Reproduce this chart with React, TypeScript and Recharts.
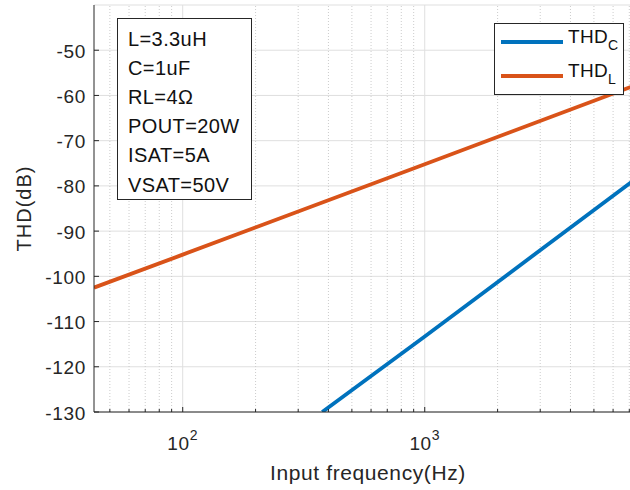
import React from "react";
import {
  LineChart,
  Line,
  XAxis,
  YAxis,
  CartesianGrid,
  ReferenceLine,
  Legend,
} from "recharts";

const FONT = "'Liberation Sans', Arial, Helvetica, sans-serif";
const INK = "#262626";
const BLUE = "#0072BD";
const ORANGE = "#D95319";

// frequencies (Hz) and THD (dB)
const FREQ_L = [43, 100, 1000, 7900];
const THD_L = [-102.5, -95.2, -75.2, -57.2];
const FREQ_C = [377, 1000, 7900];
const THD_C = [-130, -113.3, -77.4];

const X_MAJOR = [100, 1000];
const X_MINOR = [50, 60, 70, 80, 90, 200, 300, 400, 500, 600, 700, 800, 900, 2000, 3000, 4000, 5000, 6000, 7000];
const Y_TICKS = [-130, -120, -110, -100, -90, -80, -70, -60, -50];

const PARAMS = ["L=3.3uH", "C=1uF", "RL=4Ω", "POUT=20W", "ISAT=5A", "VSAT=50V"];

const SERIES = [
  { key: "C", label: "THD", sub: "C", color: BLUE, data: FREQ_C.map((f, i) => ({ f, v: THD_C[i] })) },
  { key: "L", label: "THD", sub: "L", color: ORANGE, data: FREQ_L.map((f, i) => ({ f, v: THD_L[i] })) },
];

const X_ALL = [...X_MINOR, ...X_MAJOR].sort((a, b) => a - b);

const BottomTick = (props: any) => {
  const { x, y, payload } = props;
  const major = X_MAJOR.includes(payload.value);
  const exp = Math.round(Math.log10(payload.value));
  return (
    <g>
      <line x1={x} x2={x} y1={y} y2={y - (major ? 5 : 3)} stroke={INK} />
      {major && (
        <text x={x} y={y + 38} textAnchor="middle" fill={INK} fontSize={19} fontFamily={FONT} letterSpacing={0.6}>
          10
          <tspan dy={-10} fontSize={14}>
            {exp}
          </tspan>
        </text>
      )}
    </g>
  );
};

const TopTick = (props: any) => {
  const { x, y, payload } = props;
  const major = X_MAJOR.includes(payload.value);
  return <line x1={x} x2={x} y1={y} y2={y + (major ? 5 : 3)} stroke={INK} />;
};

const LeftTick = (props: any) => {
  const { x, y, payload } = props;
  return (
    <g>
      <line x1={x} x2={x + 5} y1={y} y2={y} stroke={INK} />
      <text x={x - 8} y={y} dy={7.5} textAnchor="end" fill={INK} fontSize={19} fontFamily={FONT} letterSpacing={0.7}>
        {payload.value}
      </text>
    </g>
  );
};

const LegendBox = () => (
  <div
    style={{
      position: "relative",
      width: 130,
      height: 72,
      boxSizing: "border-box",
      border: `1px solid ${INK}`,
      background: "#fff",
      fontFamily: FONT,
      color: "#111",
    }}
  >
    {SERIES.map((s, i) => (
      <div key={s.key} style={{ position: "absolute", left: 6, top: 18 + i * 34 - 2 }}>
        <div style={{ position: "absolute", left: 0, top: 0, width: 62, height: 4, background: s.color }} />
        <div style={{ position: "absolute", left: 67, top: -13, fontSize: 19, whiteSpace: "nowrap", lineHeight: "20px", letterSpacing: 0.3 }}>
          {s.label}
          <span style={{ fontSize: 14, position: "relative", top: 7 }}>{s.sub}</span>
        </div>
      </div>
    ))}
  </div>
);

export default function App() {
  return (
    <div style={{ position: "fixed", left: 0, top: 0, width: 630, height: 490, overflow: "hidden", background: "#fff" }}>
      <LineChart width={650} height={490} margin={{ top: 5, right: 8, bottom: 0, left: 0 }}>
        <CartesianGrid vertical={false} stroke="#dfdfdf" />
        {X_MINOR.map((v) => (
          <ReferenceLine key={`m${v}`} x={v} stroke="#cccccc" strokeDasharray="1 2" />
        ))}
        {X_MAJOR.map((v) => (
          <ReferenceLine key={`M${v}`} x={v} stroke="#dfdfdf" />
        ))}
        <XAxis
          type="number"
          dataKey="f"
          scale="log"
          domain={[43, 7900]}
          allowDataOverflow
          ticks={X_ALL}
          interval={0}
          height={78}
          tickSize={0}
          tickMargin={0}
          tick={<BottomTick />}
          axisLine={{ stroke: INK }}
          label={{ value: "Input frequency(Hz)", position: "insideBottom", offset: 10, fill: INK, fontSize: 21, fontFamily: FONT, letterSpacing: 0.6 }}
        />
        <XAxis
          xAxisId="top"
          orientation="top"
          type="number"
          dataKey="f"
          scale="log"
          domain={[43, 7900]}
          allowDataOverflow
          ticks={X_ALL}
          interval={0}
          height={0}
          tickSize={0}
          tickMargin={0}
          tick={<TopTick />}
          axisLine={{ stroke: INK }}
        />
        <YAxis
          type="number"
          domain={[-130, -40]}
          allowDataOverflow
          ticks={Y_TICKS}
          interval={0}
          width={94}
          tickSize={0}
          tickMargin={0}
          tick={<LeftTick />}
          axisLine={{ stroke: INK }}
          label={{ value: "THD(dB)", angle: -90, position: "center", dx: -23, fill: INK, fontSize: 20, fontFamily: FONT, letterSpacing: 1 }}
        />
        {SERIES.map((s) => (
          <Line
            key={s.key}
            data={s.data}
            dataKey="v"
            type="linear"
            stroke={s.color}
            strokeWidth={3.8}
            dot={false}
            isAnimationActive={false}
          />
        ))}
        <Legend
          layout="horizontal"
          verticalAlign="middle"
          align="center"
          wrapperStyle={{ left: 494, top: 23, width: 130, height: 72 }}
          content={() => <LegendBox />}
        />
      </LineChart>
      <div
        style={{
          position: "absolute",
          left: 117,
          top: 18,
          width: 135,
          height: 182,
          boxSizing: "border-box",
          border: `1px solid ${INK}`,
          background: "#fff",
          paddingLeft: 10,
          paddingTop: 5.5,
          fontFamily: FONT,
          fontSize: 20,
          lineHeight: "29.2px",
          letterSpacing: 0.4,
          color: "#111",
        }}
      >
        {PARAMS.map((p) => (
          <div key={p}>{p}</div>
        ))}
      </div>
    </div>
  );
}
